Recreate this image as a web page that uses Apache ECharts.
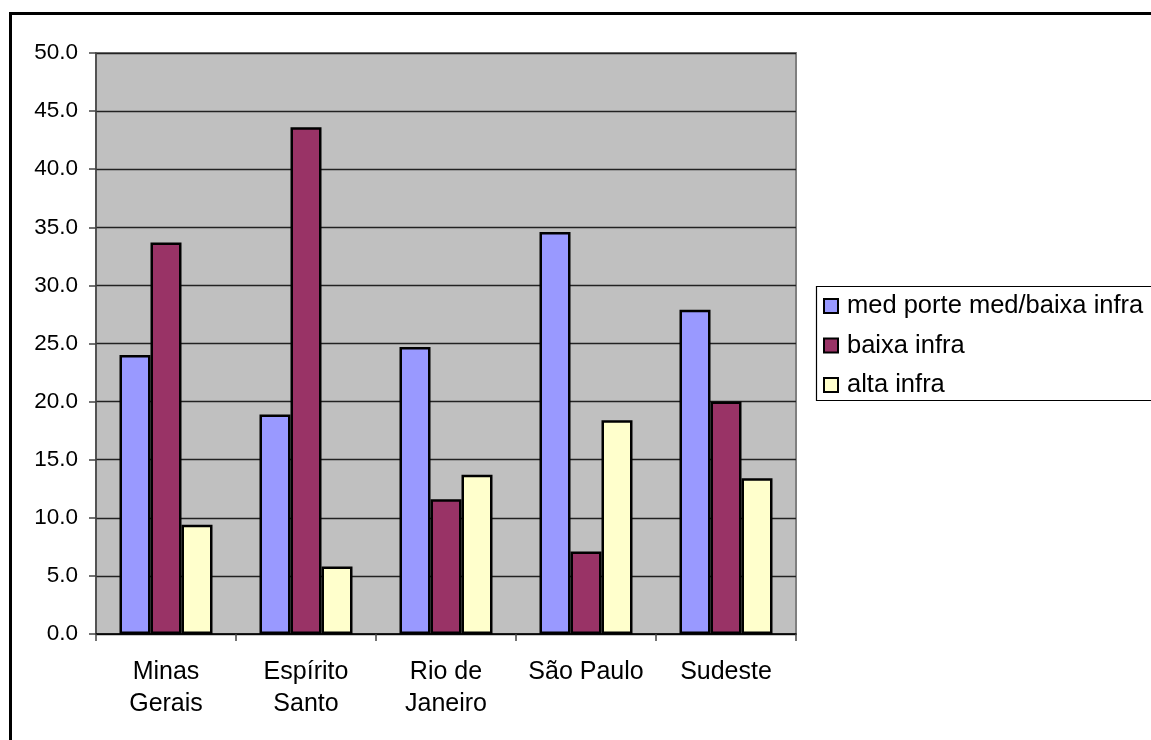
<!DOCTYPE html>
<html>
<head>
<meta charset="utf-8">
<script src="https://cdn.jsdelivr.net/npm/echarts@6/dist/echarts.min.js"></script>
<style>
  html, body { margin: 0; padding: 0; background: #fff; }
  #chart { width: 1151px; height: 740px; }
</style>
</head>
<body>
<div id="chart"></div>
<script>
// Regions of the Southeast and their shares (%) by municipality group
const categories = ['Minas\nGerais', 'Espírito\nSanto', 'Rio de\nJaneiro', 'São Paulo', 'Sudeste'];
const seriesNames = ['med porte med/baixa infra', 'baixa infra', 'alta infra'];
const medPorteMedBaixaInfra = [24.0, 18.9, 24.7, 34.6, 27.9];
const baixaInfra = [33.7, 43.6, 11.6, 7.1, 20.0];
const altaInfra = [9.4, 5.8, 13.7, 18.4, 13.4];
const seriesColors = ['#9999FF', '#993366', '#FFFFCC'];
const yTicks = { min: 0, max: 50, step: 5 };

const FONT = '"Liberation Sans", Arial, Helvetica, sans-serif';

const chart = echarts.init(document.getElementById('chart'), null, { renderer: 'canvas' });

const seriesData = [medPorteMedBaixaInfra, baixaInfra, altaInfra];

chart.setOption({
  animation: false,
  backgroundColor: '#ffffff',
  graphic: [
    // outer chart frame
    { type: 'rect', z: -10, shape: { x: 10.5, y: 13.5, width: 1300, height: 900 },
      style: { fill: '#ffffff', stroke: '#000000', lineWidth: 3 } },
    // legend frame
    { type: 'rect', z: 0, shape: { x: 816.5, y: 286.5, width: 400, height: 114 },
      style: { fill: '#ffffff', stroke: '#000000', lineWidth: 1.2 } }
  ],
  grid: {
    left: 96, right: 355, top: 53, bottom: 106,
    show: true, backgroundColor: '#C0C0C0', borderColor: '#808080', borderWidth: 2
  },
  legend: {
    orient: 'vertical',
    left: 823, top: 293,
    padding: 0,
    itemGap: 13.5,
    itemWidth: 14, itemHeight: 14,
    icon: 'rect',
    itemStyle: { borderColor: '#000', borderWidth: 2 },
    textStyle: { fontFamily: FONT, fontSize: 25.5, color: '#000', lineHeight: 25, padding: [0, 0, 0, 4] },
    data: seriesNames
  },
  xAxis: {
    type: 'category',
    data: categories,
    boundaryGap: true,
    axisLine: { lineStyle: { color: '#000', width: 1.5 } },
    axisTick: { show: true, length: 7, lineStyle: { color: '#444', width: 1.5 } },
    axisLabel: { fontFamily: FONT, fontSize: 25, color: '#000', lineHeight: 32, margin: 22, interval: 0 }
  },
  yAxis: {
    type: 'value',
    min: yTicks.min, max: yTicks.max, interval: yTicks.step,
    axisLine: { show: true, lineStyle: { color: '#444', width: 1.5 } },
    axisTick: { show: true, length: 7, lineStyle: { color: '#444', width: 1.5 } },
    splitLine: { lineStyle: { color: '#222', width: 1.3 } },
    axisLabel: { fontFamily: FONT, fontSize: 22.5, color: '#000', margin: 18,
      formatter: v => v.toFixed(1) }
  },
  series: seriesNames.map((name, i) => ({
    name,
    type: 'bar',
    data: seriesData[i],
    barWidth: 31,
    barGap: '0%',
    itemStyle: { color: seriesColors[i], borderColor: '#000', borderWidth: 2.5 }
  }))
});
</script>
</body>
</html>
